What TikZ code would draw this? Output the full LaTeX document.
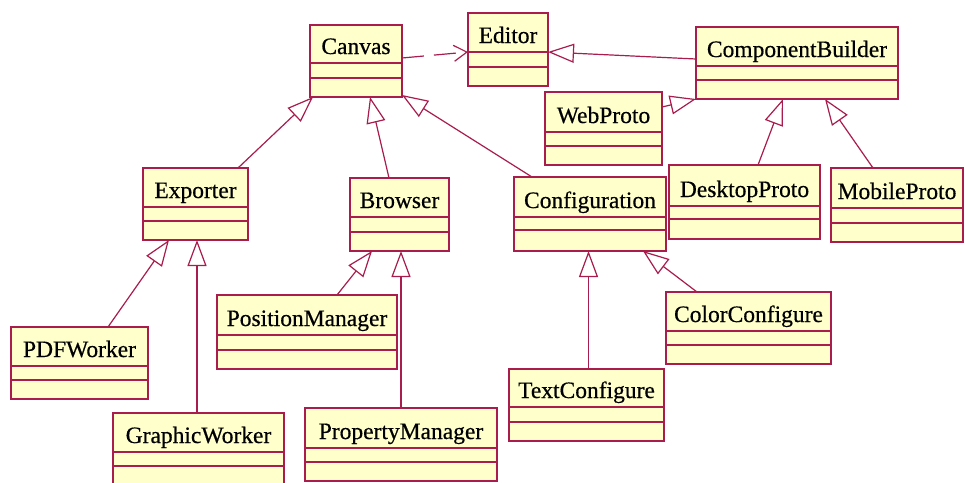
\documentclass[tikz,border=0pt]{standalone}
\usepackage{fontspec}
\setmainfont{Liberation Serif}
\newfontfamily\clsfont[FakeBold=0.5]{Liberation Serif}
\usetikzlibrary{arrows.meta,calc}
\definecolor{umlline}{RGB}{168,28,78}
\definecolor{umlfill}{RGB}{255,255,204}
\tikzset{
  clsbox/.style={draw=umlline, fill=umlfill, line width=1.3pt, inner sep=0pt, outer sep=0pt, anchor=north west, rectangle},
  clsdiv/.style={draw=umlline, line width=1.3pt},
  clsname/.style={inner sep=0pt, anchor=base, font=\clsfont\fontsize{23.5}{27}\selectfont},
  gen/.style={draw=umlline, line width=1.2pt, -{Triangle[open, length=26pt, width=19pt]}},
  dep/.style={draw=umlline, line width=1.2pt, dash pattern=on 22pt off 10pt, -{Straight Barb[length=13pt, width=16pt, line width=1.2pt]}}
}
% #1 name, #2 x1, #3 y1, #4 x2, #5 y2, #6 div1, #7 div2, #8 text
\newcommand\umlcls[8]{%
  \node[clsbox, minimum width={(#4-#2)*1pt}, minimum height={(#5-#3)*1pt}] (#1) at (#2,#3) {};
  \draw[clsdiv] (#2,#6) -- (#4,#6) (#2,#7) -- (#4,#7);
  \node[clsname] (#1-name) at ({(#2+#4)/2},{#6-9}) {#8};
}
\begin{document}
\begin{tikzpicture}[x=1pt,y=-1pt]
\useasboundingbox (0,0) rectangle (965,482);
\clip (0,0) rectangle (965,482);
\fill[white] (0,0) rectangle (965,482);

\umlcls{canvas}{310}{25}{402}{97}{63}{78}{Canvas}
\umlcls{editor}{468}{13}{548}{86}{52}{67}{Editor}
\umlcls{cb}{696}{27}{898}{99}{66}{80}{ComponentBuilder}
\umlcls{web}{545}{92}{662}{165}{132}{146}{WebProto}
\umlcls{desktop}{669}{165}{820}{239}{206}{219}{DesktopProto}
\umlcls{mobile}{831}{168}{963}{242}{208}{223}{MobileProto}
\umlcls{exporter}{143}{168}{248}{240}{207}{221}{Exporter}
\umlcls{browser}{350}{178}{449}{251}{217}{232}{Browser}
\umlcls{config}{514}{177}{666}{251}{217}{230}{Configuration}
\umlcls{pdf}{11}{327}{148}{399}{366}{380}{PDFWorker}
\umlcls{graphic}{113}{413}{284}{492}{452}{466}{GraphicWorker}
\umlcls{posmgr}{217}{295}{397}{369}{335}{350}{PositionManager}
\umlcls{propmgr}{305}{408}{497}{481}{448}{462}{PropertyManager}
\umlcls{textcfg}{509}{369}{664}{441}{407}{422}{TextConfigure}
\umlcls{colorcfg}{666}{292}{831}{364}{331}{345}{ColorConfigure}

% dependency
\draw[dep] ([yshift=3pt]canvas.east) -- ([yshift=-2.5pt]editor.west);
% generalizations
\draw[gen] ([yshift=4pt]cb.west) -- ([yshift=-2.5pt]editor.east);
\draw[gen] ([yshift=21.5pt]web.east) -- (cb.south west);
\draw[gen] ([xshift=13.5pt]desktop.north) -- ([xshift=-14pt]cb.south);
\draw[gen] ([xshift=-24pt]mobile.north) -- ([xshift=28pt]cb.south);
\draw[gen] ([xshift=-10pt]exporter.north east) -- ([xshift=3pt]canvas.south west);
\draw[gen] ([xshift=-10.5pt]browser.north) -- ([xshift=14pt]canvas.south);
\draw[gen] ([xshift=18pt]config.north west) -- ([yshift=2pt]canvas.south east);
\draw[gen] ([xshift=28.5pt]pdf.north) -- ([xshift=-26.5pt]exporter.south);
\draw[gen] ([xshift=-1.5pt]graphic.north) -- ([xshift=1.5pt]exporter.south);
\draw[gen] ([xshift=30pt]posmgr.north) -- ([xshift=-27.5pt]browser.south);
\draw[gen] (propmgr.north) -- ([xshift=1.5pt]browser.south);
\draw[gen] ([xshift=2pt]textcfg.north) -- ([xshift=-1.5pt]config.south);
\draw[gen] ([xshift=-51.5pt]colorcfg.north) -- ([xshift=53pt]config.south);
\end{tikzpicture}
\end{document}
